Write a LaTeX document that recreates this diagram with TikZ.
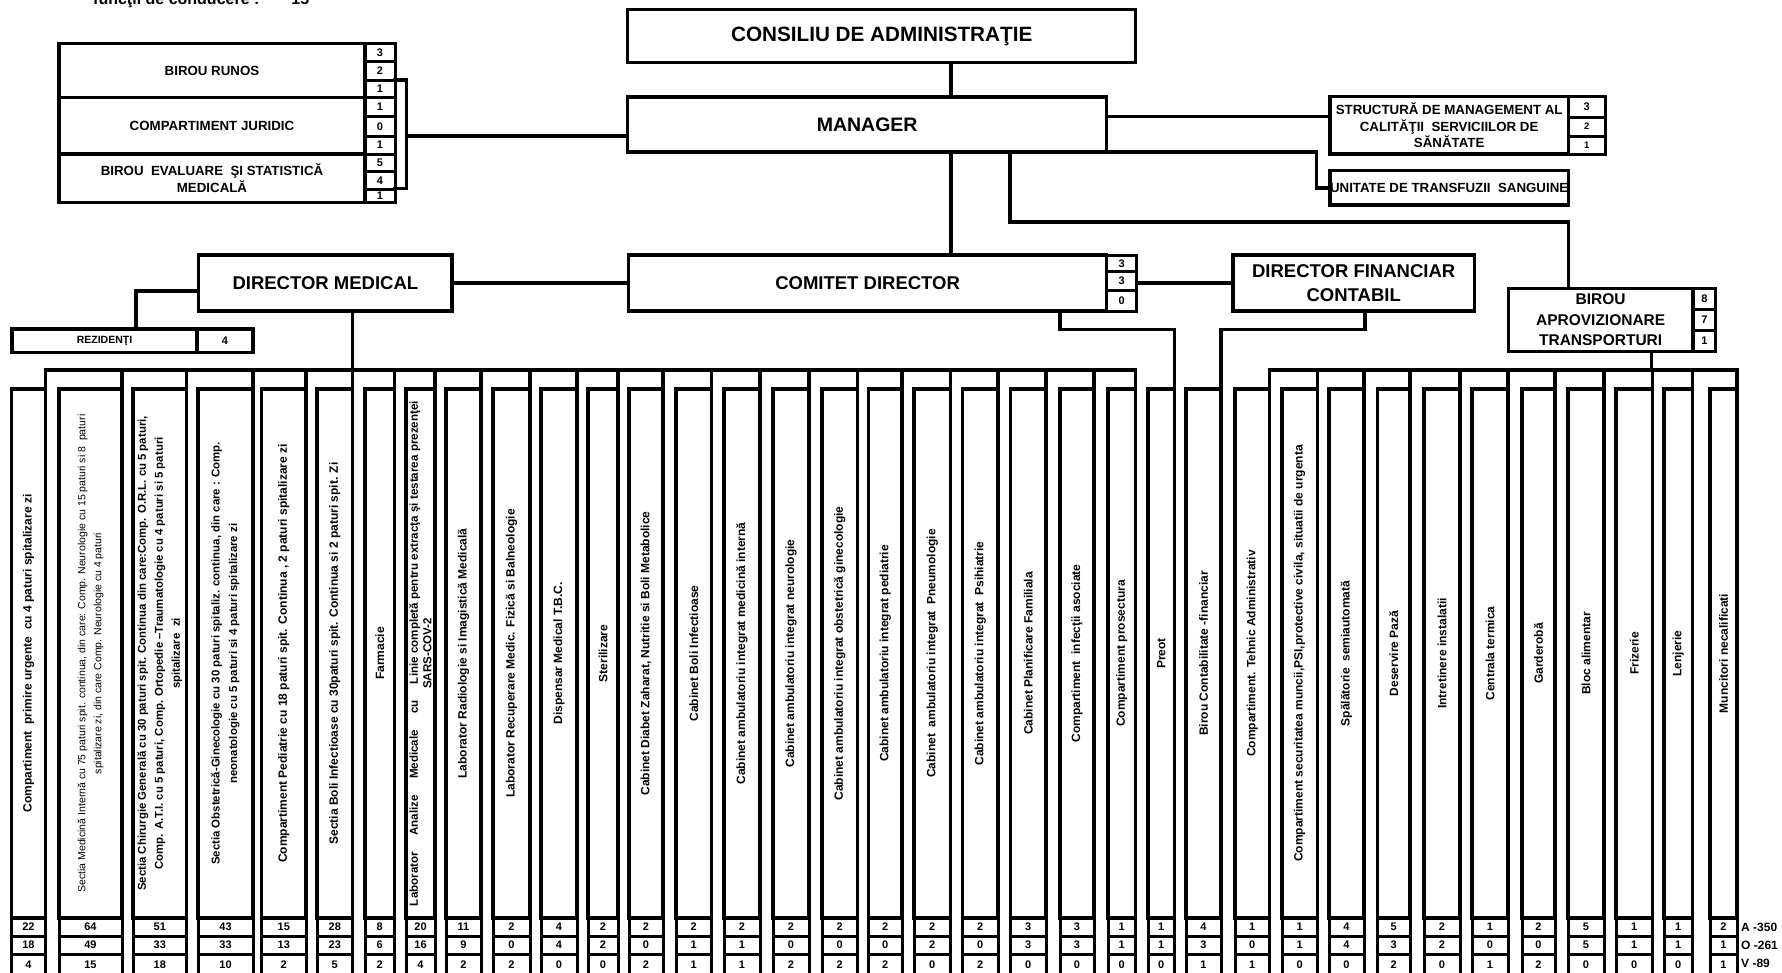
\documentclass[tikz,border=0pt]{standalone}
\usepackage{fontspec}
\setmainfont{Liberation Sans}
\begin{document}
\begin{tikzpicture}[x=1pt,y=-1pt,
  box/.style={draw, line width=3.5pt, inner sep=0pt, outer sep=0pt, anchor=north west, align=center},
  cell/.style={draw, line width=3pt, inner sep=0pt, outer sep=0pt, font=\bfseries\fontsize{11}{12}\selectfont},
  colbox/.style={draw, line width=3.2pt, inner sep=0pt, outer sep=0pt},
  coltext/.style={rotate=90, align=center, inner sep=0pt, font=\bfseries\fontsize{12}{17}\selectfont},
  conn/.style={line width=3.5pt, line cap=rect},
  big/.style={font=\bfseries\fontsize{18.5}{24}\selectfont},
  mid/.style={font=\bfseries\fontsize{13.3}{16.5}\selectfont},
]
\fill[white] (0,0) rectangle (1782,972);
\useasboundingbox (0,0) rectangle (1782,972);

% header (cut at top)
\node[anchor=base west, inner sep=0pt, font=\bfseries\fontsize{16}{18}\selectfont] (hdr) at (93,4) {funcţii de conducere :\hspace{32pt}15};

% top boxes
\node[box, minimum width=508pt, minimum height=53.4pt, font=\bfseries\fontsize{20.7}{24}\selectfont] (cons) at (627.7,9.3) {CONSILIU DE ADMINISTRAŢIE};
\node[box, minimum width=479pt, minimum height=55pt, font=\bfseries\fontsize{19.5}{24}\selectfont] (man) at (627.7,97) {MANAGER};

% left block
\node[box, mid, minimum width=306pt, minimum height=54.4pt] (runos) at (59,43.3) {BIROU RUNOS};
\node[box, mid, minimum width=306pt, minimum height=56.3pt] (jur) at (59,97.7) {COMPARTIMENT JURIDIC};
\node[box, mid, minimum width=306pt, minimum height=48.7pt] (eval) at (59,154) {BIROU\ \ EVALUARE\ \ ŞI STATISTICĂ\\MEDICALĂ};
\foreach \k/\t/\b/\v in {1/43.3/61.7/3, 2/61.7/80/2, 3/80/97.7/1, 4/97.7/116.7/1, 5/116.7/136/0, 6/136/154/1, 7/154/171.7/5, 8/171.7/189.3/4, 9/189.3/202.7/1}{
  \pgfmathsetmacro\hh{\b-\t}
  \node[cell, anchor=north west, minimum width=30pt, minimum height=\hh pt] (lc\k) at (365,\t) {\v};
}

% structura + unitate
\node[box, mid, minimum width=238.3pt, minimum height=57.3pt] (str) at (1330,96.7) {STRUCTURĂ DE MANAGEMENT AL\\CALITĂŢII\ \ SERVICIILOR DE\\SĂNĂTATE};
\foreach \k/\t/\b/\v/\f in {1/96.7/117.3/3/11, 2/117.3/136/2/9.5, 3/136/154/1/9.5}{
  \pgfmathsetmacro\hh{\b-\t}
  \node[cell, anchor=north west, minimum width=36.7pt, minimum height=\hh pt, font=\bfseries\fontsize{\f}{12}\selectfont] (sc\k) at (1568.3,\t) {\v};
}
\begin{scope}
  \clip (1330,170.7) rectangle (1568.3,205);
  \node[mid, inner sep=0pt] (unit) at (1449.15,187.85) {UNITATE DE TRANSFUZII\ \ SANGUINE};
\end{scope}
\node[box, minimum width=238.3pt, minimum height=34.3pt] (uni) at (1330,170.7) {};

% second level
\node[box, big, minimum width=253.3pt, minimum height=56pt] (dm) at (198.7,255) {DIRECTOR MEDICAL};
\node[box, big, minimum width=478pt, minimum height=56pt] (com) at (628.6,255) {COMITET DIRECTOR};
\foreach \k/\t/\b/\v in {1/255/271.7/3, 2/271.7/290/3, 3/290/311/0}{
  \pgfmathsetmacro\hh{\b-\t}
  \node[cell, anchor=north west, minimum width=30.1pt, minimum height=\hh pt] (cc\k) at (1106.6,\t) {\v};
}
\node[box, big, minimum width=241.4pt, minimum height=56pt] (dfc) at (1233,255) {DIRECTOR FINANCIAR\\CONTABIL};
\node[box, font=\bfseries\fontsize{15.5}{20.5}\selectfont, minimum width=184.7pt, minimum height=63.4pt] (bat) at (1508.3,288.3) {BIROU\\APROVIZIONARE\\TRANSPORTURI};
\foreach \k/\t/\b/\v in {1/288.3/309.4/8, 2/309.4/330.5/7, 3/330.5/351.7/1}{
  \pgfmathsetmacro\hh{\b-\t}
  \node[cell, anchor=north west, minimum width=22.6pt, minimum height=\hh pt] (bc\k) at (1693,\t) {\v};
}
\node[box, font=\bfseries\fontsize{10.5}{12}\selectfont, minimum width=185pt, minimum height=23.5pt] (rez) at (12,329) {REZIDENŢI};
\node[cell, anchor=north west, minimum width=56pt, minimum height=23.5pt, line width=3.5pt] (rezc) at (197,329) {4};

% columns
\foreach \n/\l/\r/\a/\o/\v in {
1/11.5/45.5/22/18/4, 2/59/122/64/49/15, 3/133/186.5/51/33/18, 4/198/253/43/33/10,
5/261.5/306/15/13/2, 6/317/352.5/28/23/5, 7/365/394.5/8/6/2, 8/406/435/20/16/4,
9/446/481/11/9/2, 10/493/530/2/0/2, 11/541/577/4/4/0, 12/588/618/2/2/0,
13/629/663/2/0/2, 14/676/711.5/2/1/1, 15/724/760/2/1/1, 16/773/809/2/0/2,
17/822/857.5/2/0/2, 18/868.5/902/2/0/2, 19/914/950.5/2/2/0, 20/962.5/998/2/0/2,
21/1010.5/1046/3/3/0, 22/1060/1094/3/3/0, 23/1108/1135.5/1/1/0, 24/1148/1174.5/1/1/0,
25/1186/1221/4/3/1, 26/1235/1269.5/1/0/1, 27/1282/1317.3/1/1/0, 28/1329/1364/4/4/0,
29/1377.5/1410/5/3/2, 30/1424/1460/2/2/0, 31/1472/1508/1/0/1, 32/1522/1555/2/0/2,
33/1568/1604/5/5/0, 34/1616/1652.5/1/1/0, 35/1664/1692.5/1/1/0, 36/1710/1737/2/1/1}{
  \pgfmathsetmacro\w{\r-\l}
  \pgfmathsetmacro\cx{(\l+\r)/2}
  \node[colbox, minimum width=\w pt, minimum height=529pt] (c\n) at (\cx,653.5) {};
  \node[cell, minimum width=\w pt, minimum height=18pt] (c\n-a) at (\cx,927) {\a};
  \node[cell, minimum width=\w pt, minimum height=18pt] (c\n-o) at (\cx,945) {\o};
  \node[cell, minimum width=\w pt, minimum height=22pt] (c\n-v) at (\cx,965) {\v};
}
\node[anchor=west, inner sep=0pt, font=\bfseries\fontsize{12}{12}\selectfont] (lA) at (1741,927) {A -350};
\node[anchor=west, inner sep=0pt, font=\bfseries\fontsize{12}{12}\selectfont] (lO) at (1741,945) {O -261};
\node[anchor=west, inner sep=0pt, font=\bfseries\fontsize{12}{12}\selectfont] (lV) at (1741,963) {V -89};

% column texts
\node[coltext] (t1) at (c1.center) {Compartiment\ \ primire urgente\ \ cu 4 paturi spitalizare zi};
\node[coltext, font=\fontsize{10.5}{16}\selectfont] (t2) at (c2.center) {Sectia Medicină Internă cu 75 paturi spit. continua, din care: Comp. Neurologie cu 15 paturi si 8\ \ paturi\\spitalizare zi, din care Comp. Neurologie cu 4 paturi};
\node[coltext, font=\bfseries\fontsize{11.4}{17}\selectfont] (t3) at (c3.center) {Sectia Chirurgie Generală cu 30 paturi spit. Continua din care:Comp. O.R.L. cu 5 paturi,\\Comp. A.T.I. cu 5 paturi, Comp. Ortopedie –Traumatologie cu 4 paturi si 5 paturi\\spitalizare\ \ zi};
\node[coltext, font=\bfseries\fontsize{11.4}{17.5}\selectfont] (t4) at (c4.center) {Sectia Obstetrică-Ginecologie cu 30 paturi spitaliz. continua, din care : Comp.\\neonatologie cu 5 paturi si 4 paturi spitalizare zi};
\node[coltext] (t5) at (c5.center) {Compartiment Pediatrie cu 18 paturi spit. Continua , 2 paturi spitalizare zi};
\node[coltext] (t6) at (c6.center) {Sectia Boli Infectioase cu 30paturi spit. Continua si 2 paturi spit. Zi};
\node[coltext] (t7) at (c7.center) {Farmacie};
\node[coltext, font=\bfseries\fontsize{11.6}{13.5}\selectfont] (t8) at (c8.center) {\makebox[505pt]{Laborator\hfill Analize\hfill Medicale\hfill cu\hfill Linie completă pentru extracţa şi testarea prezenţei}\\SARS-COV-2};
\node[coltext] (t9) at (c9.center) {Laborator Radiologie si Imagistică Medicală};
\node[coltext] (t10) at (c10.center) {Laborator Recuperare Medic. Fizică si Balneologie};
\node[coltext] (t11) at (c11.center) {Dispensar Medical T.B.C.};
\node[coltext] (t12) at (c12.center) {Sterilizare};
\node[coltext] (t13) at (c13.center) {Cabinet Diabet Zaharat, Nutritie si Boli Metabolice};
\node[coltext] (t14) at (c14.center) {Cabinet Boli Infectioase};
\node[coltext] (t15) at (c15.center) {Cabinet ambulatoriu integrat medicină internă};
\node[coltext] (t16) at (c16.center) {Cabinet ambulatoriu integrat neurologie};
\node[coltext] (t17) at (c17.center) {Cabinet ambulatoriu integrat obstetrică ginecologie};
\node[coltext] (t18) at (c18.center) {Cabinet ambulatoriu integrat pediatrie};
\node[coltext] (t19) at (c19.center) {Cabinet\ \ ambulatoriu integrat\ \ Pneumologie};
\node[coltext] (t20) at (c20.center) {Cabinet ambulatoriu integrat\ \ Psihiatrie};
\node[coltext] (t21) at (c21.center) {Cabinet Planificare Familiala};
\node[coltext] (t22) at (c22.center) {Compartiment\ \ infecţii asociate};
\node[coltext] (t23) at (c23.center) {Compartiment prosectura};
\node[coltext] (t24) at (c24.center) {Preot};
\node[coltext] (t25) at (c25.center) {Birou Contabilitate -financiar};
\node[coltext] (t26) at (c26.center) {Compartiment. Tehnic Administrativ};
\node[coltext] (t27) at (c27.center) {Compartiment securitatea muncii,PSI,protective civila, situatii de urgenta};
\node[coltext] (t28) at (c28.center) {Spălătorie\ \ semiautomată};
\node[coltext] (t29) at (c29.center) {Deservire Pază};
\node[coltext] (t30) at (c30.center) {Intretinere instalatii};
\node[coltext] (t31) at (c31.center) {Centrala termica};
\node[coltext] (t32) at (c32.center) {Garderobă};
\node[coltext] (t33) at (c33.center) {Bloc alimentar};
\node[coltext] (t34) at (c34.center) {Frizerie};
\node[coltext] (t35) at (c35.center) {Lenjerie};
\node[coltext] (t36) at (c36.center) {Muncitori necalificati};

% connectors
\coordinate (k1) at (951,0);
\draw[conn] (k1 |- cons.south) -- (k1 |- man.north);
\draw[conn] (k1 |- man.south) -- (k1 |- com.north);
\coordinate (k2) at (1010,222);
\coordinate (k3) at (1568.3,222);
\draw[conn] (k2 |- man.south) -- (k2) -- (k3) -- (k3 |- bat.north);
\coordinate (k4) at (1200,116.7);
\draw[conn] (man.east |- k4) -- (str.west |- k4);
\coordinate (k5) at (1316.7,152);
\draw[conn] (man.south east) -- (k5) |- (uni.west);
\coordinate (bt) at (406.7,80);
\coordinate (bb) at (406.7,188.3);
\coordinate (k6) at (406.7,136);
\draw[conn] (lc3.north east) -- (bt) -- (bb) -- (bb -| lc8.east);
\draw[conn] (k6) -- (man.west |- k6);
\draw[conn] (dm.east) -- (com.west);
\draw[conn] (cc2.east |- dfc.west) -- (dfc.west);
\coordinate (k8) at (136,291);
\draw[conn] (dm.west |- k8) -- (k8) -- (k8 |- rez.north);
\coordinate (b1w) at (45.5,370);
\coordinate (b1e) at (1135.5,370);
\coordinate (b2w) at (1269.5,370);
\coordinate (b2e) at (1737,370);
\draw[conn] (b1w) -- (b1e);
\draw[conn] (b2w) -- (b2e);
\coordinate (k10) at (352.7,0);
\draw[conn] (k10 |- dm.south) -- (k10 |- b1w);
\coordinate (k11) at (1059.8,329.3);
\draw[conn] (k11 |- com.south) -- (k11) -| (c24.north east);
\coordinate (k12) at (1365,329.3);
\draw[conn] (k12 |- dfc.south) -- (k12) -| (c25.north east);
\coordinate (k13) at (1651.6,0);
\draw[conn] (k13 |- bat.south) -- (k13 |- b2w);
\foreach \n in {1,...,23,26,27,28,29,30,31,32,33,34,35,36}{
  \draw[conn] (c\n.north east) -- (c\n.north east |- b1w);
}
\end{tikzpicture}
\end{document}
